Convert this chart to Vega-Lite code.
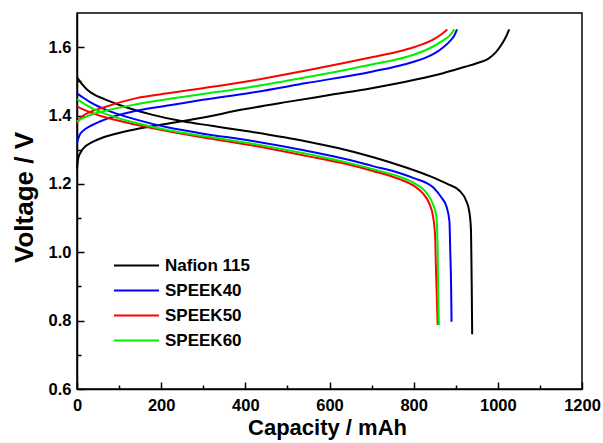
{
"$schema": "https://vega.github.io/schema/vega-lite/v6.json",
"width": 505, "height": 376,
"autosize": {"type": "none"},
"padding": {"left": 77, "top": 13, "right": 21, "bottom": 54},
"background": "white",
"config": {"view": {"stroke": "black", "strokeWidth": 1.5}, "font": "Liberation Sans"},
"data": {"values": [
{"s":"Nafion 115","m":"c","cap":0,"v":1.245},{"s":"Nafion 115","m":"c","cap":3,"v":1.275},{"s":"Nafion 115","m":"c","cap":10,"v":1.295},{"s":"Nafion 115","m":"c","cap":20,"v":1.31},{"s":"Nafion 115","m":"c","cap":36,"v":1.322},{"s":"Nafion 115","m":"c","cap":60,"v":1.335},{"s":"Nafion 115","m":"c","cap":90,"v":1.346},{"s":"Nafion 115","m":"c","cap":140,"v":1.36},{"s":"Nafion 115","m":"c","cap":200,"v":1.373},{"s":"Nafion 115","m":"c","cap":290,"v":1.392},{"s":"Nafion 115","m":"c","cap":400,"v":1.419},{"s":"Nafion 115","m":"c","cap":500,"v":1.44},{"s":"Nafion 115","m":"c","cap":600,"v":1.46},{"s":"Nafion 115","m":"c","cap":700,"v":1.48},{"s":"Nafion 115","m":"c","cap":800,"v":1.504},{"s":"Nafion 115","m":"c","cap":870,"v":1.524},{"s":"Nafion 115","m":"c","cap":920,"v":1.542},{"s":"Nafion 115","m":"c","cap":950,"v":1.553},{"s":"Nafion 115","m":"c","cap":977,"v":1.566},{"s":"Nafion 115","m":"c","cap":995,"v":1.585},{"s":"Nafion 115","m":"c","cap":1010,"v":1.61},{"s":"Nafion 115","m":"c","cap":1020,"v":1.632},{"s":"Nafion 115","m":"c","cap":1027,"v":1.652},
{"s":"Nafion 115","m":"d","cap":0,"v":1.512},{"s":"Nafion 115","m":"d","cap":10,"v":1.495},{"s":"Nafion 115","m":"d","cap":25,"v":1.475},{"s":"Nafion 115","m":"d","cap":40,"v":1.462},{"s":"Nafion 115","m":"d","cap":61,"v":1.45},{"s":"Nafion 115","m":"d","cap":101,"v":1.431},{"s":"Nafion 115","m":"d","cap":180,"v":1.402},{"s":"Nafion 115","m":"d","cap":251,"v":1.383},{"s":"Nafion 115","m":"d","cap":320,"v":1.37},{"s":"Nafion 115","m":"d","cap":410,"v":1.353},{"s":"Nafion 115","m":"d","cap":546,"v":1.324},{"s":"Nafion 115","m":"d","cap":620,"v":1.305},{"s":"Nafion 115","m":"d","cap":704,"v":1.278},{"s":"Nafion 115","m":"d","cap":782,"v":1.248},{"s":"Nafion 115","m":"d","cap":840,"v":1.222},{"s":"Nafion 115","m":"d","cap":880,"v":1.2},{"s":"Nafion 115","m":"d","cap":909,"v":1.18},{"s":"Nafion 115","m":"d","cap":925,"v":1.15},{"s":"Nafion 115","m":"d","cap":932,"v":1.12},{"s":"Nafion 115","m":"d","cap":936,"v":1.07},{"s":"Nafion 115","m":"d","cap":937,"v":1.0},{"s":"Nafion 115","m":"d","cap":938,"v":0.9},{"s":"Nafion 115","m":"d","cap":939,"v":0.76},
{"s":"SPEEK40","m":"c","cap":0,"v":1.32},{"s":"SPEEK40","m":"c","cap":5,"v":1.34},{"s":"SPEEK40","m":"c","cap":15,"v":1.356},{"s":"SPEEK40","m":"c","cap":30,"v":1.368},{"s":"SPEEK40","m":"c","cap":61,"v":1.386},{"s":"SPEEK40","m":"c","cap":141,"v":1.414},{"s":"SPEEK40","m":"c","cap":220,"v":1.43},{"s":"SPEEK40","m":"c","cap":299,"v":1.446},{"s":"SPEEK40","m":"c","cap":410,"v":1.466},{"s":"SPEEK40","m":"c","cap":545,"v":1.495},{"s":"SPEEK40","m":"c","cap":703,"v":1.529},{"s":"SPEEK40","m":"c","cap":782,"v":1.551},{"s":"SPEEK40","m":"c","cap":830,"v":1.57},{"s":"SPEEK40","m":"c","cap":860,"v":1.59},{"s":"SPEEK40","m":"c","cap":885,"v":1.616},{"s":"SPEEK40","m":"c","cap":897,"v":1.635},{"s":"SPEEK40","m":"c","cap":903,"v":1.652},
{"s":"SPEEK40","m":"d","cap":0,"v":1.465},{"s":"SPEEK40","m":"d","cap":15,"v":1.452},{"s":"SPEEK40","m":"d","cap":30,"v":1.44},{"s":"SPEEK40","m":"d","cap":61,"v":1.421},{"s":"SPEEK40","m":"d","cap":141,"v":1.388},{"s":"SPEEK40","m":"d","cap":220,"v":1.364},{"s":"SPEEK40","m":"d","cap":300,"v":1.347},{"s":"SPEEK40","m":"d","cap":410,"v":1.327},{"s":"SPEEK40","m":"d","cap":545,"v":1.297},{"s":"SPEEK40","m":"d","cap":640,"v":1.272},{"s":"SPEEK40","m":"d","cap":703,"v":1.252},{"s":"SPEEK40","m":"d","cap":766,"v":1.232},{"s":"SPEEK40","m":"d","cap":800,"v":1.217},{"s":"SPEEK40","m":"d","cap":846,"v":1.19},{"s":"SPEEK40","m":"d","cap":866,"v":1.16},{"s":"SPEEK40","m":"d","cap":878,"v":1.134},{"s":"SPEEK40","m":"d","cap":885,"v":1.09},{"s":"SPEEK40","m":"d","cap":887,"v":1.0},{"s":"SPEEK40","m":"d","cap":889,"v":0.9},{"s":"SPEEK40","m":"d","cap":890,"v":0.797},
{"s":"SPEEK50","m":"c","cap":0,"v":1.378},{"s":"SPEEK50","m":"c","cap":10,"v":1.395},{"s":"SPEEK50","m":"c","cap":30,"v":1.41},{"s":"SPEEK50","m":"c","cap":61,"v":1.423},{"s":"SPEEK50","m":"c","cap":141,"v":1.451},{"s":"SPEEK50","m":"c","cap":220,"v":1.466},{"s":"SPEEK50","m":"c","cap":299,"v":1.48},{"s":"SPEEK50","m":"c","cap":410,"v":1.501},{"s":"SPEEK50","m":"c","cap":545,"v":1.532},{"s":"SPEEK50","m":"c","cap":640,"v":1.555},{"s":"SPEEK50","m":"c","cap":703,"v":1.571},{"s":"SPEEK50","m":"c","cap":766,"v":1.588},{"s":"SPEEK50","m":"c","cap":800,"v":1.6},{"s":"SPEEK50","m":"c","cap":846,"v":1.622},{"s":"SPEEK50","m":"c","cap":866,"v":1.638},{"s":"SPEEK50","m":"c","cap":880,"v":1.652},
{"s":"SPEEK50","m":"d","cap":0,"v":1.427},{"s":"SPEEK50","m":"d","cap":30,"v":1.41},{"s":"SPEEK50","m":"d","cap":61,"v":1.397},{"s":"SPEEK50","m":"d","cap":141,"v":1.373},{"s":"SPEEK50","m":"d","cap":220,"v":1.353},{"s":"SPEEK50","m":"d","cap":300,"v":1.336},{"s":"SPEEK50","m":"d","cap":410,"v":1.314},{"s":"SPEEK50","m":"d","cap":545,"v":1.282},{"s":"SPEEK50","m":"d","cap":640,"v":1.258},{"s":"SPEEK50","m":"d","cap":703,"v":1.238},{"s":"SPEEK50","m":"d","cap":766,"v":1.214},{"s":"SPEEK50","m":"d","cap":800,"v":1.195},{"s":"SPEEK50","m":"d","cap":822,"v":1.172},{"s":"SPEEK50","m":"d","cap":838,"v":1.14},{"s":"SPEEK50","m":"d","cap":846,"v":1.105},{"s":"SPEEK50","m":"d","cap":851,"v":1.046},{"s":"SPEEK50","m":"d","cap":853,"v":0.95},{"s":"SPEEK50","m":"d","cap":855,"v":0.87},{"s":"SPEEK50","m":"d","cap":857,"v":0.787},
{"s":"SPEEK60","m":"c","cap":0,"v":1.382},{"s":"SPEEK60","m":"c","cap":10,"v":1.39},{"s":"SPEEK60","m":"c","cap":30,"v":1.401},{"s":"SPEEK60","m":"c","cap":61,"v":1.412},{"s":"SPEEK60","m":"c","cap":141,"v":1.433},{"s":"SPEEK60","m":"c","cap":220,"v":1.449},{"s":"SPEEK60","m":"c","cap":299,"v":1.463},{"s":"SPEEK60","m":"c","cap":410,"v":1.483},{"s":"SPEEK60","m":"c","cap":545,"v":1.512},{"s":"SPEEK60","m":"c","cap":640,"v":1.534},{"s":"SPEEK60","m":"c","cap":703,"v":1.55},{"s":"SPEEK60","m":"c","cap":766,"v":1.566},{"s":"SPEEK60","m":"c","cap":800,"v":1.578},{"s":"SPEEK60","m":"c","cap":846,"v":1.602},{"s":"SPEEK60","m":"c","cap":870,"v":1.62},{"s":"SPEEK60","m":"c","cap":885,"v":1.633},{"s":"SPEEK60","m":"c","cap":897,"v":1.652},
{"s":"SPEEK60","m":"d","cap":0,"v":1.448},{"s":"SPEEK60","m":"d","cap":30,"v":1.425},{"s":"SPEEK60","m":"d","cap":61,"v":1.408},{"s":"SPEEK60","m":"d","cap":141,"v":1.378},{"s":"SPEEK60","m":"d","cap":220,"v":1.356},{"s":"SPEEK60","m":"d","cap":300,"v":1.34},{"s":"SPEEK60","m":"d","cap":410,"v":1.319},{"s":"SPEEK60","m":"d","cap":545,"v":1.288},{"s":"SPEEK60","m":"d","cap":640,"v":1.263},{"s":"SPEEK60","m":"d","cap":703,"v":1.243},{"s":"SPEEK60","m":"d","cap":766,"v":1.221},{"s":"SPEEK60","m":"d","cap":800,"v":1.203},{"s":"SPEEK60","m":"d","cap":831,"v":1.173},{"s":"SPEEK60","m":"d","cap":846,"v":1.14},{"s":"SPEEK60","m":"d","cap":854,"v":1.104},{"s":"SPEEK60","m":"d","cap":857,"v":1.007},{"s":"SPEEK60","m":"d","cap":858,"v":0.9},{"s":"SPEEK60","m":"d","cap":860,"v":0.787}
]},
"mark": {"type": "line", "strokeWidth": 2, "interpolate": "monotone"},
"encoding": {
  "x": {"field": "cap", "type": "quantitative",
    "scale": {"domain": [0, 1200], "nice": false},
    "axis": {"title": "Capacity / mAh", "values": [0,100,200,300,400,500,600,700,800,900,1000,1100,1200],
      "labelExpr": "datum.value % 200 === 0 ? datum.label : ''",
      "format": "d", "labelFlush": false, "labelOverlap": false,
      "grid": false, "domainColor": "black", "domainWidth": 1.5,
      "tickColor": "black", "tickWidth": 1.5,
      "tickSize": {"condition": {"test": "datum.value % 200 === 0", "value": -7}, "value": -4},
      "labelPadding": 15, "labelFont": "Liberation Sans", "labelFontWeight": "bold", "labelFontSize": 16.5, "labelColor": "black",
      "titleFont": "Liberation Sans", "titleFontWeight": "bold", "titleFontSize": 22, "titleColor": "black",
      "titleBaseline": "alphabetic", "titleY": 45, "titleX": 250, "titleAnchor": "middle", "titleAlign": "center"}},
  "y": {"field": "v", "type": "quantitative",
    "scale": {"domain": [0.6, 1.7], "nice": false, "zero": false},
    "axis": {"title": "Voltage / V", "values": [0.6,0.7,0.8,0.9,1.0,1.1,1.2,1.3,1.4,1.5,1.6],
      "labelExpr": "round(datum.value*10) % 2 === 0 ? format(datum.value, '.1f') : ''",
      "labelFlush": false, "labelOverlap": false,
      "grid": false, "domainColor": "black", "domainWidth": 1.5,
      "tickColor": "black", "tickWidth": 1.5,
      "tickSize": {"condition": {"test": "round(datum.value*10) % 2 === 0", "value": -7}, "value": -4},
      "labelPadding": 13, "labelFont": "Liberation Sans", "labelFontWeight": "bold", "labelFontSize": 16.5, "labelColor": "black",
      "titleFont": "Liberation Sans", "titleFontWeight": "bold", "titleFontSize": 26, "titleColor": "black",
      "titleAngle": -90, "titleBaseline": "middle", "titleAlign": "center", "titleX": -53, "titleY": 184}},
  "color": {"field": "s", "type": "nominal",
    "scale": {"domain": ["Nafion 115", "SPEEK40", "SPEEK50", "SPEEK60"], "range": ["#000000", "#0000ff", "#ff0000", "#00ee00"]},
    "legend": {"title": null, "orient": "none", "legendX": 51, "legendY": 244,
      "symbolType": "M-3,0L3,0", "symbolSize": 225, "symbolStrokeWidth": 2,
      "labelFont": "Liberation Sans", "labelFontWeight": "bold", "labelFontSize": 17, "labelColor": "black",
      "labelOffset": 20, "rowPadding": 7}},
  "detail": {"field": "m"}
}
}
